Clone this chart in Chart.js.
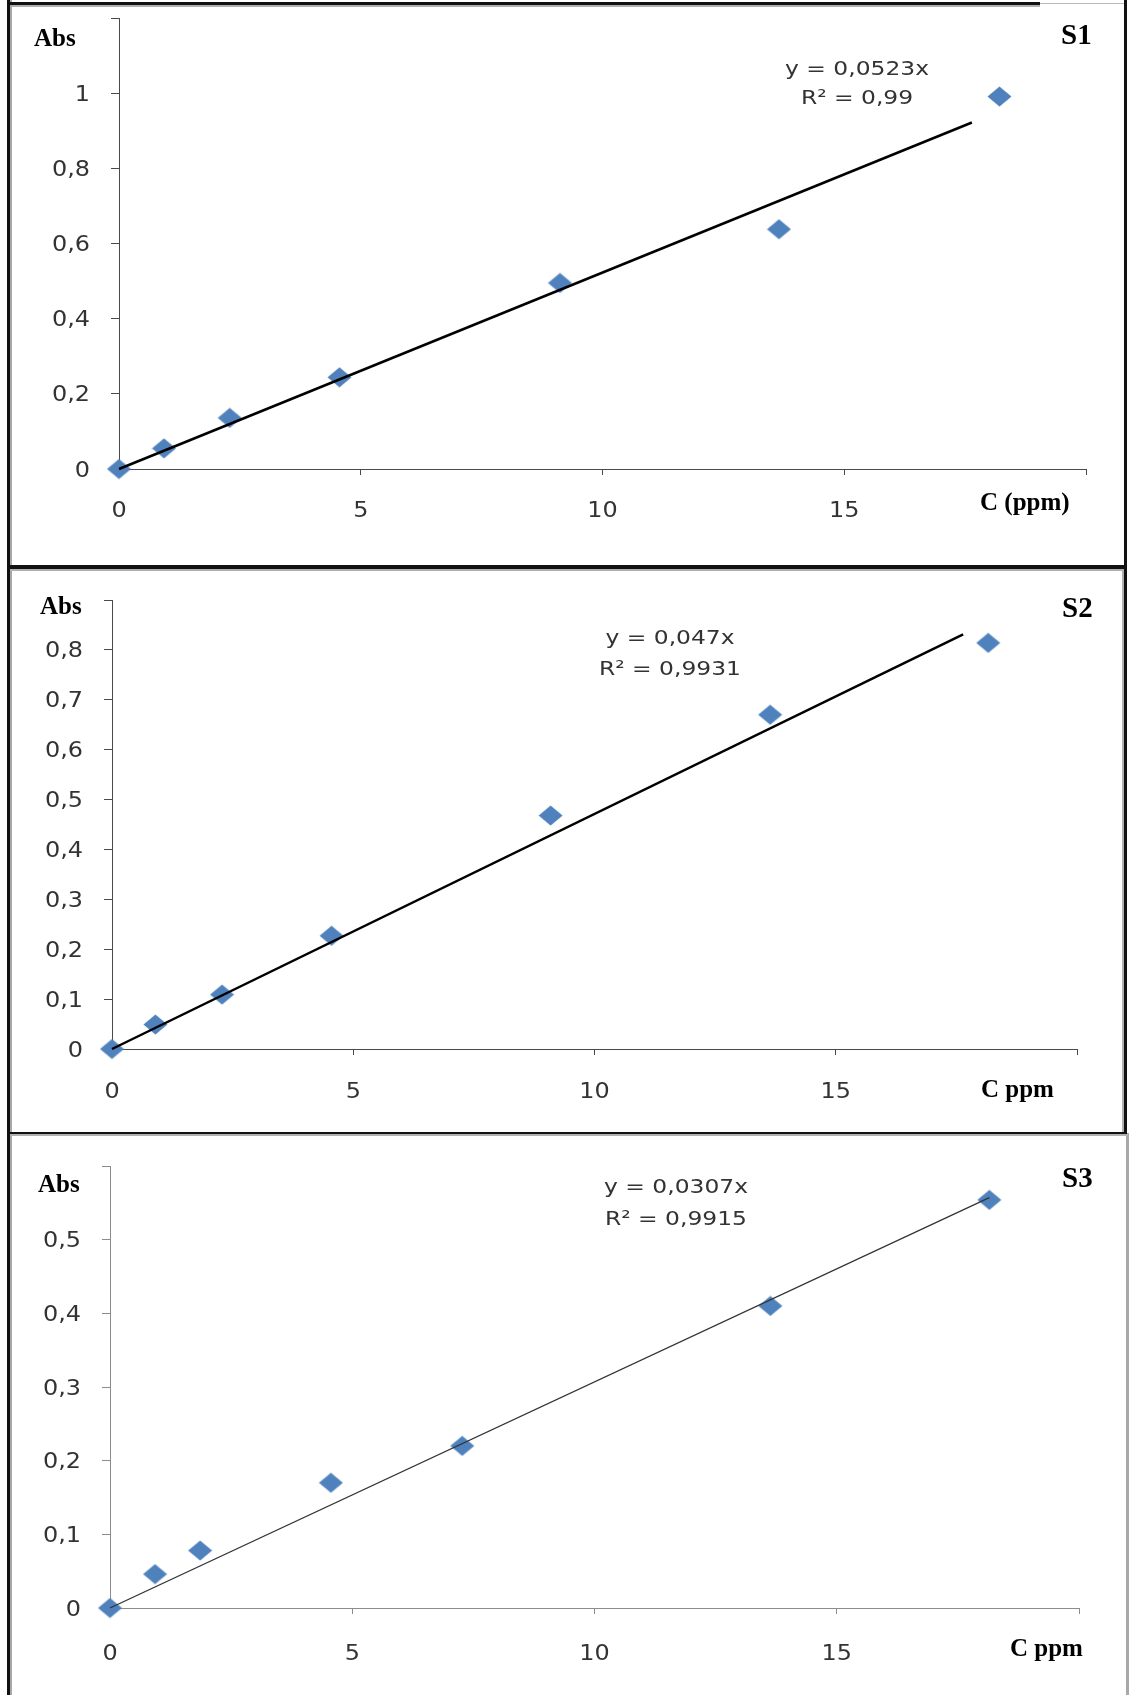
<!DOCTYPE html>
<html>
<head>
<meta charset="utf-8">
<script src="https://cdn.jsdelivr.net/npm/chart.js@4.4.0/dist/chart.umd.min.js"></script>
<style>
  body { margin: 0; background: #fff; }
  #page { position: relative; width: 1131px; height: 1695px; background: #fff; overflow: hidden; }
  canvas { position: absolute; left: 0; }
  .line { position: absolute; }
</style>
</head>
<body>
<div id="page">
  <canvas id="chartS1" width="1131" height="565" style="top:0px"></canvas>
  <canvas id="chartS2" width="1131" height="564" style="top:569px"></canvas>
  <canvas id="chartS3" width="1131" height="559" style="top:1136px"></canvas>

  <!-- frame -->
  <div class="line" style="left:7px;top:0;width:3px;height:1695px;background:#111"></div>
  <div class="line" style="left:10px;top:0;width:2px;height:1695px;background:#a8a8a8"></div>
  <div class="line" style="left:7px;top:2px;width:1033px;height:3px;background:#111"></div>
  <div class="line" style="left:1040px;top:3px;width:87px;height:1px;background:#bbb"></div>
  <div class="line" style="left:12px;top:5px;width:1028px;height:2px;background:#b0b0b0"></div>
  <div class="line" style="left:1124px;top:0;width:3px;height:1133px;background:#111"></div>
  <div class="line" style="left:1122px;top:569px;width:2px;height:564px;background:#b0b0b0"></div>
  <div class="line" style="left:1126px;top:1133px;width:3px;height:562px;background:#a8a8a8"></div>
  <div class="line" style="left:7px;top:565px;width:1120px;height:4px;background:#111"></div>
  <div class="line" style="left:10px;top:569px;width:1114px;height:2px;background:#b0b0b0"></div>
  <div class="line" style="left:7px;top:1132px;width:1120px;height:2px;background:#111"></div>
  <div class="line" style="left:10px;top:1134px;width:1118px;height:2px;background:#b0b0b0"></div>
</div>

<script>
// S1
const s1Conc = [0, 0.93, 2.29, 4.56, 9.12, 13.65, 18.21];
const s1Abs = [0, 0.055, 0.136, 0.244, 0.495, 0.638, 0.991];
const s1TrendX = [0, 17.64];
const s1TrendY = [0, 0.922];
const s1Equation = ["y = 0,0523x", "R² = 0,99"];

// S2
const s2Conc = [0, 0.90, 2.28, 4.55, 9.09, 13.64, 18.16];
const s2Abs = [0, 0.049, 0.109, 0.227, 0.468, 0.670, 0.814];
const s2TrendX = [0, 17.64];
const s2TrendY = [0, 0.831];
const s2Equation = ["y = 0,047x", "R² = 0,9931"];

// S3
const s3Conc = [0, 0.93, 1.86, 4.56, 7.27, 13.63, 18.15];
const s3Abs = [0, 0.046, 0.078, 0.170, 0.220, 0.410, 0.554];
const s3TrendX = [0, 18.15];
const s3TrendY = [0, 0.557];
const s3Equation = ["y = 0,0307x", "R² = 0,9915"];

// axes
const xMax = 20;
const xStep = 5;
const yMaxes = [1.2, 0.9, 0.6];
const ySteps = [0.2, 0.1, 0.1];
const panelTags = ["S1", "S2", "S3"];
const xTitles = ["C (ppm)", "C ppm", "C ppm"];
const yTitle = "Abs";

// blue diamond marker, a bit wider than tall like the original
const diamond = document.createElement(`canvas`);
diamond.width = 25;
diamond.height = 21;
(function () {
  const c = diamond.getContext(`2d`);
  c.fillStyle = `#4F81BD`;
  c.beginPath();
  c.moveTo(12.5, 0.5);
  c.lineTo(24.5, 10.5);
  c.lineTo(12.5, 20.5);
  c.lineTo(0.5, 10.5);
  c.closePath();
  c.fill();
})();

function FormatNum(v) {
  return (Math.round(v * 10) / 10).toString().replace(`.`, `,`);
}

function DrawStretched(ctx, text, x, y, align, sx) {
  ctx.save();
  ctx.translate(x, y);
  ctx.scale(sx, 1);
  ctx.textAlign = align;
  ctx.fillText(text, 0, 0);
  ctx.restore();
}

const labelPlugin = {
  id: `labels`,
  afterDraw(chart, args, opts) {
    const { ctx, chartArea, scales: { x, y } } = chart;
    ctx.save();
    ctx.textBaseline = `alphabetic`;
    ctx.fillStyle = `#333`;
    ctx.font = `21px "DejaVu Sans"`;
    // tick labels, last one hidden behind the axis titles
    y.ticks.forEach((t, i) => {
      if (i === y.ticks.length - 1) return;
      DrawStretched(ctx, FormatNum(t.value), chartArea.left - 29, y.getPixelForValue(t.value) + 7.5, `right`, 1.14);
    });
    x.ticks.forEach((t, i) => {
      if (i === x.ticks.length - 1) return;
      DrawStretched(ctx, FormatNum(t.value), x.getPixelForValue(t.value), chartArea.bottom + opts.xDrop, `center`, 1.14);
    });
    // trend equation
    ctx.font = `19.5px "DejaVu Sans"`;
    DrawStretched(ctx, opts.equation[0], opts.eqX, opts.eqY[0], `center`, 1.2);
    DrawStretched(ctx, opts.equation[1], opts.eqX, opts.eqY[1], `center`, 1.2);
    // titles
    ctx.fillStyle = `#000`;
    ctx.textAlign = `left`;
    ctx.font = `bold 25px "Liberation Serif"`;
    ctx.fillText(yTitle, opts.absPos[0], opts.absPos[1]);
    ctx.fillText(opts.xTitle, opts.xTitlePos[0], opts.xTitlePos[1]);
    ctx.font = `bold 29px "Liberation Serif"`;
    ctx.fillText(opts.tag, opts.tagPos[0], opts.tagPos[1]);
    ctx.restore();
  }
};

function ToPoints(xs, ys) {
  return xs.map((x, i) => ({ x, y: ys[i] }));
}

function BuildScatter({ conc, abs, trendX, trendY, yMax, yStep, padding, axisColor, lineColor, lineWidth, labels }) {
  const data = {
    datasets: [
      {
        label: `trend`,
        data: ToPoints(trendX, trendY),
        showLine: true,
        borderColor: lineColor,
        borderWidth: lineWidth,
        pointRadius: 0,
        fill: false,
        clip: false
      },
      {
        label: `Abs`,
        data: ToPoints(conc, abs),
        showLine: false,
        pointStyle: diamond,
        pointRadius: 11,
        backgroundColor: `#4F81BD`,
        clip: false
      }
    ]
  };

  const options = {
    responsive: false,
    animation: false,
    layout: { padding },
    plugins: {
      legend: { display: false },
      tooltip: { enabled: false },
      labels
    },
    scales: {
      x: {
        type: `linear`,
        min: 0,
        max: xMax,
        ticks: { display: false, stepSize: xStep },
        grid: { display: true, drawOnChartArea: false, drawTicks: true, tickLength: 6, color: axisColor, lineWidth: 1 },
        border: { display: true, color: axisColor, width: 1 }
      },
      y: {
        type: `linear`,
        min: 0,
        max: yMax,
        ticks: { display: false, stepSize: yStep },
        grid: { display: true, drawOnChartArea: false, drawTicks: true, tickLength: 8, color: axisColor, lineWidth: 1 },
        border: { display: true, color: axisColor, width: 1 }
      }
    }
  };

  return { type: `scatter`, data, options, plugins: [labelPlugin] };
}

new Chart(document.getElementById(`chartS1`).getContext(`2d`), BuildScatter({
  conc: s1Conc, abs: s1Abs, trendX: s1TrendX, trendY: s1TrendY,
  yMax: yMaxes[0], yStep: ySteps[0],
  padding: { left: 111, right: 45, top: 18, bottom: 90 },
  axisColor: `#4a4a4a`, lineColor: `#000`, lineWidth: 2.5,
  labels: {
    xDrop: 48, equation: s1Equation, eqX: 857, eqY: [75, 104],
    absPos: [34, 46], tag: panelTags[0], tagPos: [1061, 44],
    xTitle: xTitles[0], xTitlePos: [980, 510]
  }
}));

new Chart(document.getElementById(`chartS2`).getContext(`2d`), BuildScatter({
  conc: s2Conc, abs: s2Abs, trendX: s2TrendX, trendY: s2TrendY,
  yMax: yMaxes[1], yStep: ySteps[1],
  padding: { left: 104, right: 54, top: 31, bottom: 78 },
  axisColor: `#4a4a4a`, lineColor: `#000`, lineWidth: 2.5,
  labels: {
    xDrop: 49, equation: s2Equation, eqX: 670, eqY: [75, 106],
    absPos: [40, 45], tag: panelTags[1], tagPos: [1062, 48],
    xTitle: xTitles[1], xTitlePos: [981, 528]
  }
}));

new Chart(document.getElementById(`chartS3`).getContext(`2d`), BuildScatter({
  conc: s3Conc, abs: s3Abs, trendX: s3TrendX, trendY: s3TrendY,
  yMax: yMaxes[2], yStep: ySteps[2],
  padding: { left: 102, right: 52, top: 30, bottom: 81 },
  axisColor: `#8c8c8c`, lineColor: `#333`, lineWidth: 1.3,
  labels: {
    xDrop: 52, equation: s3Equation, eqX: 676, eqY: [57, 89],
    absPos: [38, 56], tag: panelTags[2], tagPos: [1062, 51],
    xTitle: xTitles[2], xTitlePos: [1010, 520]
  }
}));
</script>
</body>
</html>
